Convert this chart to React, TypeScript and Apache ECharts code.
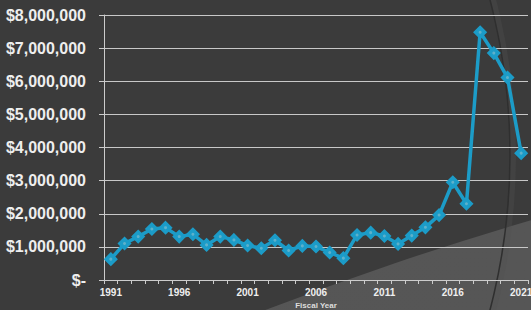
import React, { useEffect, useRef } from "react";
import * as echarts from "echarts";

const years = [
  "1991","1992","1993","1994","1995","1996","1997","1998","1999","2000",
  "2001","2002","2003","2004","2005","2006","2007","2008","2009","2010",
  "2011","2012","2013","2014","2015","2016","2017","2018","2019","2020","2021",
];
const amounts = [
  630000, 1100000, 1310000, 1540000, 1580000, 1310000, 1380000, 1060000, 1310000, 1210000,
  1040000, 960000, 1200000, 890000, 1030000, 1010000, 830000, 660000, 1360000, 1430000,
  1330000, 1090000, 1340000, 1590000, 1960000, 2950000, 2300000, 7480000, 6850000, 6110000, 3830000,
];
const yTicks = { min: 0, max: 8000000, step: 1000000 };

const fmt = (v: number) => (v === 0 ? "$-" : "$" + v.toLocaleString("en-US"));

export default function App() {
  const ref = useRef<HTMLDivElement>(null);
  useEffect(() => {
    if (!ref.current) return;
    const chart = echarts.init(ref.current, undefined, { renderer: "svg" });
    const font = "'Liberation Sans', Arial, sans-serif";
    chart.setOption({
      animation: false,
      backgroundColor: "#3b3b3b",
      graphic: [
        {
          type: "circle",
          z: -10,
          silent: true,
          shape: { cx: 1507, cy: 3544, r: 3464 },
          style: {
            fill: {
              type: "linear", x: 0, y: 0, x2: 1, y2: 0, global: false,
              colorStops: [
                { offset: 0, color: "#4a4a4a" },
                { offset: 0.2, color: "#555555" },
                { offset: 1, color: "#5a5a5a" },
              ],
            },
          },
        },
        {
          type: "circle",
          z: -9,
          silent: true,
          shape: { cx: -100, cy: 155, r: 613 },
          style: { fill: "none", stroke: "rgba(80,80,80,0.35)", lineWidth: 6 },
        },
        {
          type: "circle",
          z: -8,
          silent: true,
          shape: { cx: -100, cy: 155, r: 610 },
          style: { fill: "none", stroke: "#2f2f2f", lineWidth: 1.5 },
        },
      ],
      grid: { left: 104, right: 3, top: 15, bottom: 30, containLabel: false, outerBoundsMode: "none" },
      xAxis: {
        type: "category",
        data: years,
        boundaryGap: true,
        name: "Fiscal Year",
        nameLocation: "middle",
        nameGap: 21,
        nameTextStyle: { color: "#dddddd", fontSize: 8, fontWeight: "bold", fontFamily: font },
        axisLine: { lineStyle: { color: "#cccccc", width: 1 } },
        axisTick: { show: true, interval: 0, length: 4, lineStyle: { color: "#cccccc" } },
        axisLabel: {
          interval: 4,
          color: "#eeeeee",
          fontSize: 10,
          fontWeight: "bold",
          fontFamily: font,
          margin: 7,
          hideOverlap: false,
        },
      },
      yAxis: {
        type: "value",
        min: yTicks.min,
        max: yTicks.max,
        interval: yTicks.step,
        axisLine: { show: true, lineStyle: { color: "#cccccc", width: 1 } },
        axisTick: { show: true, length: 5, lineStyle: { color: "#cccccc" } },
        splitLine: { lineStyle: { color: "#c8c8c8", width: 1 } },
        axisLabel: {
          formatter: fmt,
          color: "#eeeeee",
          fontSize: 16,
          fontWeight: "bold",
          fontFamily: font,
          margin: 18,
        },
      },
      series: [
        {
          type: "line",
          data: amounts,
          symbol: "diamond",
          symbolSize: 12,
          showSymbol: true,
          showAllSymbol: true,
          lineStyle: { color: "#1c9cc8", width: 3.5 },
          itemStyle: { color: "#1c9cc8", borderColor: "#1c9cc8", borderWidth: 1.5 },
          z: 3,
        },
        {
          type: "scatter",
          data: amounts,
          symbol: "circle",
          symbolSize: 3,
          itemStyle: { color: "#6fb6cc" },
          z: 4,
          silent: true,
        },
      ],
    });
    return () => chart.dispose();
  }, []);
  return (
    <div
      ref={ref}
      style={{ position: "absolute", left: 0, top: 0, width: 531, height: 310 }}
    />
  );
}
